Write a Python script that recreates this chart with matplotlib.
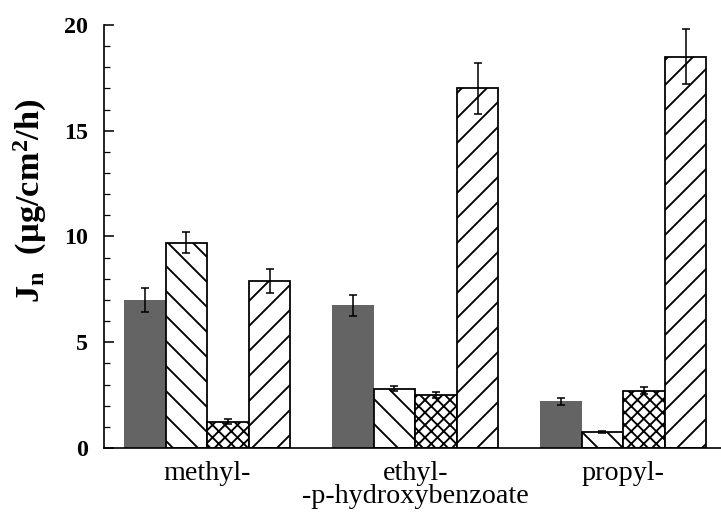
import numpy as np
import matplotlib
matplotlib.use("Agg")
import matplotlib.pyplot as plt

# Données (flux J_n, µg/cm²/h)
groups = ["methyl-", "ethyl-\n-p-hydroxybenzoate", "propyl-"]
solid_vals = [7.0, 6.75, 2.2]
solid_err = [0.55, 0.5, 0.17]
back_vals = [9.7, 2.8, 0.75]
back_err = [0.5, 0.12, 0.04]
cross_vals = [1.25, 2.5, 2.7]
cross_err = [0.1, 0.15, 0.17]
fwd_vals = [7.9, 17.0, 18.5]
fwd_err = [0.55, 1.2, 1.3]

plt.rcParams["font.family"] = ["Liberation Serif", "DejaVu Serif"]
plt.rcParams["mathtext.default"] = "regular"
plt.rcParams["hatch.linewidth"] = 1.8
plt.rcParams["hatch.color"] = "black"

DPI = 75
fig = plt.figure(figsize=(721 / DPI, 526 / DPI), dpi=DPI)
ax = fig.add_axes([104 / 721, 78 / 526, 1 - 104 / 721, 423 / 526])

x0 = np.arange(len(groups)) * 5.0
series = [
    (solid_vals, solid_err, dict(color="#646464", edgecolor="#646464", linewidth=0)),
    (back_vals, back_err, dict(color="white", edgecolor="black", hatch="\\", linewidth=1.7)),
    (cross_vals, cross_err, dict(color="white", edgecolor="black", hatch="xx", linewidth=1.7)),
    (fwd_vals, fwd_err, dict(color="white", edgecolor="black", hatch="/", linewidth=1.7)),
]
for j, (vals, errs, style) in enumerate(series):
    ax.bar(x0 + j, vals, width=1.0, align="edge", zorder=2, **style)
    ax.errorbar(x0 + j + 0.5, vals, yerr=errs, fmt="none", ecolor="black",
                elinewidth=1.5, capsize=4, capthick=1.5, zorder=3)

ax.set_ylim(0, 20)
ax.set_xlim(-0.48, 14.35)
ax.set_yticks([0, 5, 10, 15, 20])
ax.set_yticks(np.arange(0, 21, 1), minor=True)
ax.set_xticks(x0 + 2)
ax.set_xticklabels(groups, fontsize=27, linespacing=0.9)
for lbl in ax.get_yticklabels():
    lbl.set_fontweight("bold")
    lbl.set_fontsize(23)
ax.tick_params(axis="y", which="major", direction="in", length=10, width=1.5, pad=15)
ax.tick_params(axis="y", which="minor", direction="in", length=6, width=1.2)
ax.tick_params(axis="x", length=0, pad=12)

ax.spines["top"].set_visible(False)
ax.spines["right"].set_visible(False)
ax.spines["left"].set_linewidth(1.6)
ax.spines["bottom"].set_linewidth(1.6)

fig.text(30 / 721, 1 - 201 / 526, "J$_{n}$  (µg/cm$^{2}$/h)", rotation=90,
         ha="center", va="center", fontsize=33, fontweight="bold")

fig.savefig("out.png", dpi=DPI)
